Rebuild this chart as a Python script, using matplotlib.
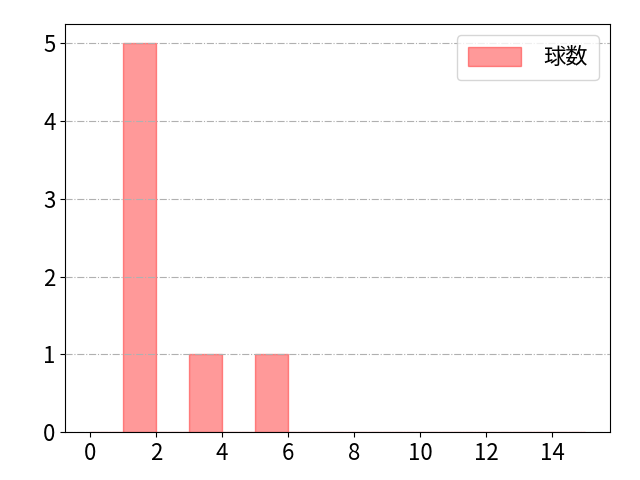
import matplotlib.pyplot as plt

plt.rcParams['font.family'] = ['Noto Sans CJK JP', 'DejaVu Sans']

# pitch count bins (left edges) and frequencies
bin_edges = list(range(0, 15))
counts = [0, 5, 0, 1, 0, 1, 0, 0, 0, 0, 0, 0, 0, 0, 0]

fig, ax = plt.subplots(figsize=(6.4, 4.8), dpi=100)
fig.subplots_adjust(left=0.102, right=0.953, top=0.95, bottom=0.1)
ax.bar(bin_edges, counts, width=1, align='edge', color='red', alpha=0.4,
       edgecolor='red', linewidth=1, label='球数')
ax.grid(axis='y', linestyle='-.', color='#b0b0b0', linewidth=0.8)
ax.set_axisbelow(False)
ax.set_xticks(range(0, 15, 2))
ax.set_yticks(range(0, 6))
ax.tick_params(labelsize=16)
ax.legend(fontsize=16, loc='upper right', handlelength=2.4, handleheight=0.9,
          borderpad=0.5, handletextpad=1.0)
fig.savefig('out.png')
